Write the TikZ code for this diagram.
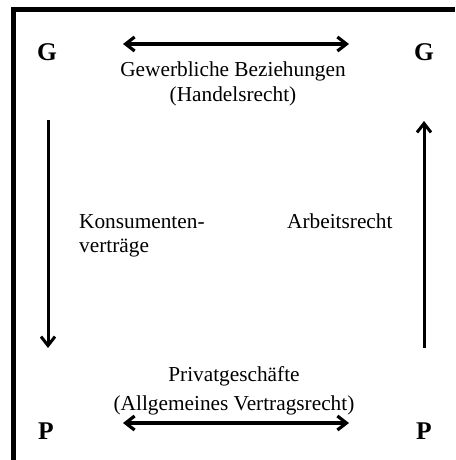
\documentclass[tikz,border=0pt]{standalone}
\usepackage{fontspec}
\setmainfont{Liberation Serif}
\usetikzlibrary{arrows.meta, positioning}

\begin{document}
\begin{tikzpicture}[x=1pt, y=-1pt,
		corner/.style={font=\fontsize{25.5}{30}\selectfont\bfseries, inner sep=0pt},
		lawtext/.style={font=\fontsize{21.3}{23.5}\selectfont, inner sep=0pt, align=center},
		rel/.style={line width=3.2pt, {Straight Barb[length=9pt, width=14pt]}-{Straight Barb[length=9pt, width=14pt]}},
		flow/.style={line width=3pt, -{Straight Barb[length=9pt, width=14pt]}}]
		\useasboundingbox (0, 0) rectangle (455, 460);
		% Frame:
		\draw[line width=5pt] (13.5, 460) -- (13.5, 9.8) -- (455, 9.8);
		% Corners:
		\node[corner] (GL) at (47, 52){G};
		\node[corner] (GR) at (424, 52){G};
		\node[corner] (PL) at (46, 431){P};
		\node[corner] (PR) at (424, 431){P};
		% Arrows:
		\coordinate (TopA) at (123, 44);
		\coordinate (TopB) at (349, 44);
		\coordinate (BotA) at (123, 423);
		\coordinate (BotB) at (349, 423);
		\coordinate (LeftA) at (48, 120);
		\coordinate (LeftB) at (48, 348);
		\coordinate (RightA) at (424, 348);
		\coordinate (RightB) at (424, 121);
		\draw[rel] (TopA) -- (TopB);
		\draw[rel] (BotA) -- (BotB);
		\draw[flow] (LeftA) -- (LeftB);
		\draw[flow] (RightA) -- (RightB);
		% Labels (base = last line):
		\node[lawtext, anchor=base] (gew) at (233, 101){Gewerbliche Beziehungen\\[1.5pt](Handelsrecht)};
		\node[lawtext, anchor=base] (priv) at (234, 410){Privatgeschäfte\\[5.5pt](Allgemeines Vertragsrecht)};
		\node[lawtext, align=left, anchor=base west] (kons) at (79, 252){Konsumenten-\\verträge};
		\node[lawtext, anchor=base west] (arb) at (287, 228){Arbeitsrecht};
	\end{tikzpicture}
\end{document}
